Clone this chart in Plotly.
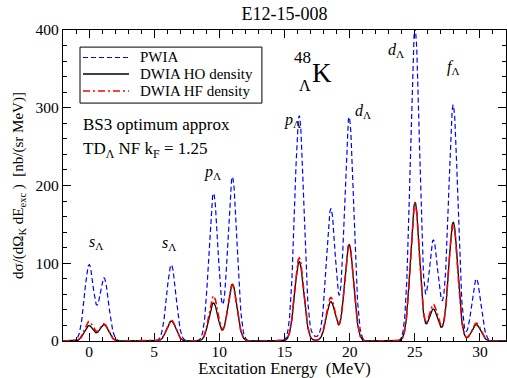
import numpy as np
import plotly.graph_objects as go

# Peak positions (MeV) and peak heights (nb/(sr MeV))
peak_energy = [0.0, 1.15, 6.31, 9.55, 11.0, 16.13, 17.3, 18.56, 19.96, 25.02, 26.4, 27.0, 27.95, 29.72]
pwia_peak = [98, 81, 98, 190, 211, 290, 5, 170, 288, 402, 125, 20, 303, 80]
ho_peak = [19.7, 21, 25.7, 49, 73, 102, 0.5, 50.6, 124, 178, 40, 5, 153, 21]
hf_peak = [25, 22, 27, 58, 72, 107, 0.5, 56, 124, 176, 46, 5, 150, 23]
resolution_sigma = 0.35  # Gaussian energy resolution (MeV)

series_names = ["PWIA", "DWIA HO density", "DWIA HF density"]
x_ticks = [0, 5, 10, 15, 20, 25, 30]
y_ticks = [0, 100, 200, 300, 400]

E = np.linspace(-2, 32, 1701)


def spectrum(heights):
    s = np.zeros_like(E)
    for e0, h in zip(peak_energy, heights):
        s += h * np.exp(-0.5 * ((E - e0) / resolution_sigma) ** 2)
    return s


FONT = "Liberation Serif"
styles = [dict(color="#0000ff", width=1.2, dash="5px,3px"),
          dict(color="black", width=1.3, dash="solid"),
          dict(color="#ff0000", width=1.6, dash="7px,3px,2px,3px")]

fig = go.Figure()
for name, peaks, st in zip(series_names, [pwia_peak, ho_peak, hf_peak], styles):
    fig.add_trace(go.Scatter(x=E, y=spectrum(peaks), mode="lines", name=name,
                             line=st, showlegend=False))

ann = []
shapes = []


def label(x, y, text, size=16, xanchor="center"):
    ann.append(dict(x=x, y=y, xref="x", yref="y", text=text, showarrow=False,
                    xanchor=xanchor, yanchor="middle",
                    font=dict(family=FONT, size=size, color="black")))


label(0.5, 127, "<i>s</i><sub>Λ</sub>")
label(6.15, 126, "<i>s</i><sub>Λ</sub>")
label(9.5, 217, "<i>p</i><sub>Λ</sub>")
label(15.6, 284, "<i>p</i><sub>Λ</sub>")
label(21.0, 295, "<i>d</i><sub>Λ</sub>")
label(23.55, 374, "<i>d</i><sub>Λ</sub>")
label(27.95, 352, "<i>f</i><sub>Λ</sub>")
label(16.35, 364, "48", size=17)
label(16.6, 329, "Λ", size=16)
label(17.85, 345, "K", size=27)
label(-0.6, 278, "BS3 optimum approx", size=17, xanchor="left")
label(-0.6, 246, "TD<sub>Λ</sub> NF k<sub>F</sub> = 1.25", size=17, xanchor="left")

# legend box (paper coordinates)
shapes.append(dict(type="rect", xref="paper", yref="paper", x0=0.0384, x1=0.449,
                   y0=0.765, y1=0.945, line=dict(color="black", width=1),
                   fillcolor="white", layer="above"))
legend_rows = [0.9116, 0.8585, 0.8039]
for name, st, yr in zip(series_names, styles, legend_rows):
    shapes.append(dict(type="line", xref="paper", yref="paper", x0=0.0451, x1=0.149,
                       y0=yr, y1=yr, line=st, layer="above"))
    ann.append(dict(x=0.1693, y=yr, xref="paper", yref="paper", text=name,
                    showarrow=False, xanchor="left", yanchor="middle",
                    font=dict(family=FONT, size=15, color="black")))

axis_common = dict(showline=True, linecolor="black", linewidth=1.3, mirror="allticks",
                   ticks="inside", ticklen=8, tickwidth=1.2, tickcolor="black",
                   showgrid=False, zeroline=False, layer="below traces",
                   tickfont=dict(family=FONT, size=15.5, color="black"))

fig.update_layout(
    width=507, height=378,
    margin=dict(l=63, r=1, t=30, b=37),
    paper_bgcolor="white", plot_bgcolor="white",
    title=dict(text="E12-15-008", x=0.5, xref="paper", y=0.965, yanchor="middle",
               font=dict(family=FONT, size=18, color="black")),
    xaxis=dict(range=[-2, 32], tickvals=x_ticks, ticktext=[str(v) for v in x_ticks],
               minor=dict(dtick=1, tick0=0, ticks="inside", ticklen=4, tickcolor="black"),
               ticklabelstandoff=-4,
               title=dict(text="Excitation Energy  (MeV)", standoff=1,
                          font=dict(family=FONT, size=16.5, color="black")),
               automargin=False, **axis_common),
    yaxis=dict(range=[0, 400], tickvals=y_ticks, ticktext=[str(v) for v in y_ticks],
               minor=dict(dtick=20, tick0=0, ticks="inside", ticklen=4, tickcolor="black"),
               title=dict(text="dσ/(dΩ<sub>K</sub> dE<sub>exc</sub> )  [nb/(sr MeV)]", standoff=8,
                          font=dict(family=FONT, size=15, color="black")),
               automargin=False, **axis_common),
    annotations=ann,
    shapes=shapes,
    showlegend=False,
)

fig.write_html("out.html")
